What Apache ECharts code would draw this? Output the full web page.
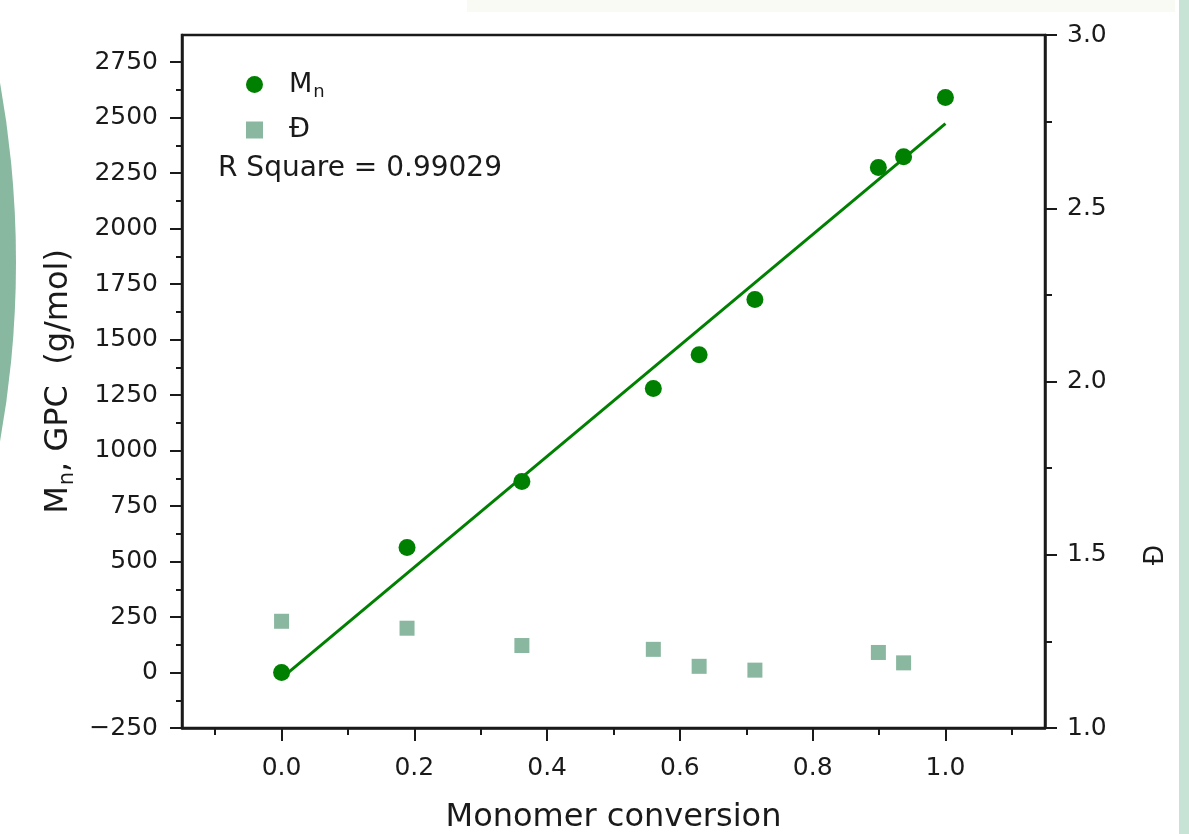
<!DOCTYPE html>
<html>
<head>
<meta charset="utf-8">
<script src="https://cdn.jsdelivr.net/npm/echarts@6/dist/echarts.min.js"></script>
<style>
  html, body { margin: 0; padding: 0; background: #ffffff; }
  #chart { width: 1189px; height: 834px; }
</style>
</head>
<body>
<div id="chart"></div>
<script>
// Monomer conversion (x) for every sample
const conversion = [0, 0.189, 0.362, 0.560, 0.629, 0.713, 0.899, 0.937, 1.0];
// Number-average molar mass from GPC (g/mol)
const mnValues = [0, 563, 860, 1279, 1432, 1680, 2275, 2324, 2590];
// Dispersity, measured for the first eight samples
const dispersityConversion = [0, 0.189, 0.362, 0.560, 0.629, 0.713, 0.899, 0.937];
const dispersityValues = [1.308, 1.288, 1.238, 1.227, 1.178, 1.167, 1.218, 1.188];
// Linear fit of Mn against conversion (end points)
const fitConversion = [0, 1];
const fitMn = [-25, 2473];
const rSquare = '0.99029';

// Tick positions
const xMajorTicks = [0, 0.2, 0.4, 0.6, 0.8, 1.0];
const xMinorTicks = [-0.1, 0.1, 0.3, 0.5, 0.7, 0.9, 1.1];
const mnMajorTicks = [-250, 0, 250, 500, 750, 1000, 1250, 1500, 1750, 2000, 2250, 2500, 2750];
const mnMinorTicks = [-125, 125, 375, 625, 875, 1125, 1375, 1625, 1875, 2125, 2375, 2625];

const FONT = 'DejaVu Sans';
const INK = '#1a1a1a';
const GREEN = '#008000';
const SAGE = '#89b79f';

const pairs = (xs, ys) => xs.map((x, i) => [x, ys[i]]);

const chart = echarts.init(document.getElementById('chart'), null, { renderer: 'canvas' });

const lineStyle = { color: INK, width: 2.5 };
const tickStyle = { color: INK, width: 2 };

chart.setOption({
  animation: false,
  backgroundColor: '#ffffff',
  textStyle: { fontFamily: FONT, color: INK },
  graphic: [
    // decorative page edges
    { type: 'rect', left: 467, top: 0, shape: { width: 708, height: 12 }, style: { fill: '#fafaf5' }, silent: true, z: -10 },
    { type: 'rect', left: 1179, top: 0, shape: { width: 10, height: 834 }, style: { fill: '#c6e3d5' }, silent: true, z: -10 },
    { type: 'circle', shape: { cx: -1000, cy: 262, r: 1016 }, style: { fill: '#88b89f' }, silent: true, z: -10 },
    {
      type: 'text', left: 218, top: 155,
      style: { text: 'R Square = ' + rSquare, font: '28px "' + FONT + '"', fill: INK }
    },
    // title of the dispersity axis
    {
      type: 'text', x: 1156, y: 555, rotation: Math.PI / 2,
      style: { text: 'Đ', font: '26px "' + FONT + '"', fill: INK, align: 'center', verticalAlign: 'middle' }
    }
  ],
  grid: {
    left: 182, right: 144, top: 35, bottom: 106,
    outerBoundsMode: 'none', containLabel: false,
    show: true, borderColor: INK, borderWidth: 2.5, backgroundColor: 'transparent'
  },
  legend: {
    orient: 'vertical',
    left: 241, top: 66,
    itemWidth: 17, itemHeight: 17, itemGap: 15,
    selectedMode: false,
    data: [
      { name: 'Mn', icon: 'circle' },
      { name: 'D', icon: 'rect' }
    ],
    formatter: name => name === 'Mn' ? '{m|M}{s|n}' : '{m|Đ}',
    textStyle: {
      padding: [0, 0, 0, 21],
      rich: {
        m: { fontSize: 27, fontFamily: FONT, color: INK },
        s: { fontSize: 18, fontFamily: FONT, color: INK, padding: [16, 0, 0, 1] }
      }
    }
  },
  xAxis: [
    {
      type: 'value', min: -0.15, max: 1.15, position: 'bottom',
      name: 'Monomer conversion', nameLocation: 'middle', nameGap: 74,
      nameTextStyle: { fontSize: 32, fontFamily: FONT, color: INK },
      axisLine: { show: true, onZero: false, lineStyle },
      axisTick: { show: true, length: 13, customValues: xMajorTicks, lineStyle: tickStyle },
      axisLabel: { customValues: xMajorTicks, fontSize: 25, margin: 28, color: INK, formatter: v => v.toFixed(1) },
      splitLine: { show: false }
    },
    {
      type: 'value', min: -0.15, max: 1.15, position: 'bottom',
      axisLine: { show: false, onZero: false },
      axisTick: { show: true, length: 7, customValues: xMinorTicks, lineStyle: tickStyle },
      axisLabel: { show: false },
      splitLine: { show: false }
    }
  ],
  yAxis: [
    {
      type: 'value', min: -250, max: 2872, position: 'left',
      name: '{t|M}{s|n}{t|, GPC  (g/mol)}', nameLocation: 'middle', nameGap: 103, nameRotate: 90,
      nameTextStyle: {
        rich: {
          t: { fontSize: 32, fontFamily: FONT, color: INK },
          s: { fontSize: 21, fontFamily: FONT, color: INK, padding: [18, 0, 0, 1] }
        }
      },
      axisLine: { show: true, onZero: false, lineStyle },
      axisTick: { show: true, length: 12, customValues: mnMajorTicks, lineStyle: tickStyle },
      axisLabel: {
        customValues: mnMajorTicks, fontSize: 25, margin: 24, color: INK,
        formatter: v => String(v).replace('-', '\u2212')
      },
      splitLine: { show: false }
    },
    {
      type: 'value', min: 1.0, max: 3.0, interval: 0.5, position: 'right',
      axisLine: { show: true, onZero: false, lineStyle },
      axisTick: { show: true, length: 12, lineStyle: tickStyle },
      minorTick: { show: true, splitNumber: 2, length: 7, lineStyle: tickStyle },
      axisLabel: { fontSize: 25, margin: 22, color: INK, formatter: v => v.toFixed(1) },
      splitLine: { show: false },
      minorSplitLine: { show: false }
    },
    {
      type: 'value', min: -250, max: 2872, position: 'left', offset: 0,
      axisLine: { show: false, onZero: false },
      axisTick: { show: true, length: 6, customValues: mnMinorTicks, lineStyle: tickStyle },
      axisLabel: { show: false },
      splitLine: { show: false }
    }
  ],
  series: [
    {
      name: 'fit', type: 'line', xAxisIndex: 0, yAxisIndex: 0,
      data: pairs(fitConversion, fitMn),
      symbol: 'none', lineStyle: { color: GREEN, width: 3 }, z: 2
    },
    {
      name: 'Mn', type: 'scatter', xAxisIndex: 0, yAxisIndex: 0,
      data: pairs(conversion, mnValues),
      symbol: 'circle', symbolSize: 17,
      itemStyle: { color: GREEN, opacity: 1 }, z: 3
    },
    {
      name: 'D', type: 'scatter', xAxisIndex: 0, yAxisIndex: 1,
      data: pairs(dispersityConversion, dispersityValues),
      symbol: 'rect', symbolSize: 15,
      itemStyle: { color: SAGE, opacity: 1 }, z: 3
    }
  ]
});
</script>
</body>
</html>
